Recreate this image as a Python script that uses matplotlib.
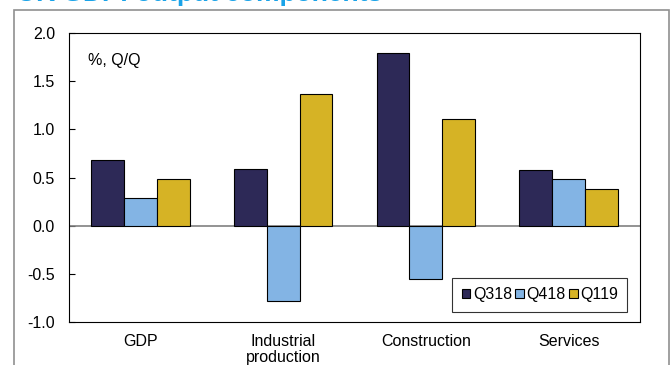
import numpy as np
import matplotlib.pyplot as plt
from matplotlib.patches import Rectangle

plt.rcParams['font.family'] = ['Liberation Sans', 'DejaVu Sans']

categories = ["GDP", "Industrial\nproduction", "Construction", "Services"]
series = ["Q318", "Q418", "Q119"]
q318 = [0.68, 0.59, 1.79, 0.58]
q418 = [0.29, -0.78, -0.55, 0.48]
q119 = [0.48, 1.37, 1.11, 0.38]
colors = ["#2d2957", "#83b4e4", "#d6b325"]

W, H = 672, 365
fig = plt.figure(figsize=(W / 100, H / 100), dpi=100)
ax = fig.add_axes([69 / W, 1 - 322 / H, (640 - 69) / W, (322 - 33) / H])

x = np.arange(len(categories))
bw = 0.23
for i, (vals, name) in enumerate(zip([q318, q418, q119], series)):
    ax.bar(x + (i - 1) * bw, vals, bw, color=colors[i], edgecolor="black",
           linewidth=0.8, label=name, zorder=3)

ax.axhline(0, color="#808080", linewidth=1.2, zorder=2)
ax.set_xlim(-0.5, 3.5)
ax.set_ylim(-1.0, 2.0)
ax.set_yticks(np.arange(-1.0, 2.01, 0.5))
ax.set_yticklabels([f"{v:.1f}" for v in np.arange(-1.0, 2.01, 0.5)])
ax.set_xticks(x)
ax.set_xticklabels(categories, fontsize=11.5, linespacing=1.05)
ax.tick_params(axis="x", length=0, pad=9)
ax.tick_params(axis="y", direction="in", length=4, width=0.8, labelsize=11.5, pad=10)
for s in ax.spines.values():
    s.set_linewidth(0.8)

ax.text(0.034, 0.905, "%, Q/Q", transform=ax.transAxes, fontsize=11.5, va="center")

leg = ax.legend(loc="lower right", bbox_to_anchor=(0.978, 0.035), ncol=3, fontsize=11.5,
                frameon=True, fancybox=False, edgecolor="black", handlelength=0.55,
                handleheight=0.55, handletextpad=0.15, columnspacing=0.2,
                borderpad=0.6, borderaxespad=0)
leg.get_frame().set_linewidth(0.8)

# outer frame of the chart box
fig.patches.append(Rectangle((14 / W, -0.1), (669 - 14) / W, 1.1 - 10 / H,
                             transform=fig.transFigure, fill=False,
                             edgecolor="#909090", linewidth=1.2))

fig.text(17 / W, 1 + 18 / H, "UK GDP: output components", color="#1aa3e8",
         fontsize=19, fontweight="bold", va="top", ha="left")

fig.savefig("out.png", dpi=100)
